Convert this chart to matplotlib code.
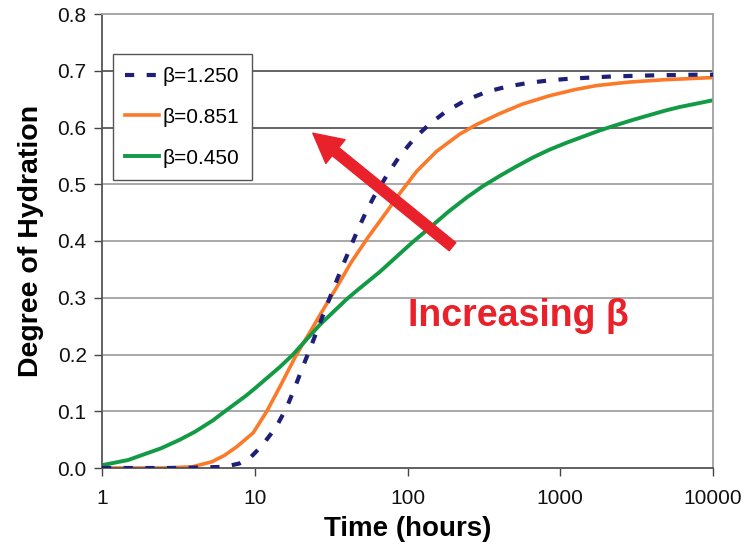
import matplotlib
matplotlib.use("Agg")
import matplotlib.pyplot as plt
from matplotlib.ticker import FixedLocator, FixedFormatter

plt.rcParams['font.family'] = ['Liberation Sans', 'DejaVu Sans']

# ---- data ----
t_b125 = [1, 3.16, 6.31, 7.94, 9.33, 11.2, 13.8, 16.2, 18.2, 20.4, 23.4, 28.8, 32.4,
          37.2, 41.7, 46.8, 53.7, 60.3, 74.1, 89.1, 112, 138, 178, 240, 331, 447, 631,
          851, 1148, 2188, 4266, 7762, 10000]
a_b125 = [0.0, 0.0, 0.002, 0.008, 0.018, 0.040, 0.072, 0.107, 0.140, 0.175, 0.215,
          0.278, 0.313, 0.353, 0.385, 0.417, 0.452, 0.478, 0.518, 0.550, 0.582, 0.605,
          0.628, 0.648, 0.663, 0.672, 0.679, 0.683, 0.686, 0.690, 0.692, 0.693, 0.693]

t_b085 = [1, 2.51, 3.89, 5.25, 6.31, 7.59, 9.77, 12.0, 14.6, 18.6, 24.5, 27.9, 34.3,
          42.7, 55.0, 72.4, 89.1, 115, 155, 219, 282, 398, 562, 851, 1259, 1738, 2818,
          4677, 10000]
a_b085 = [0.0, 0.0, 0.002, 0.011, 0.022, 0.037, 0.062, 0.100, 0.143, 0.198, 0.252,
          0.278, 0.318, 0.362, 0.406, 0.450, 0.484, 0.523, 0.558, 0.588, 0.605, 0.624,
          0.641, 0.656, 0.667, 0.674, 0.680, 0.684, 0.688]

t_b045 = [1, 1.48, 2.45, 3.24, 4.07, 5.33, 6.17, 8.83, 10.2, 14.6, 17.8, 26.6, 39.8,
          46.8, 66.1, 107, 145, 186, 245, 309, 398, 513, 661, 851, 1096, 1778, 2188,
          2951, 3631, 4898, 6026, 10000]
a_b045 = [0.005, 0.014, 0.035, 0.050, 0.064, 0.084, 0.097, 0.128, 0.142, 0.178, 0.200,
          0.252, 0.297, 0.313, 0.346, 0.397, 0.427, 0.452, 0.477, 0.496, 0.514, 0.531,
          0.547, 0.561, 0.573, 0.594, 0.602, 0.613, 0.620, 0.630, 0.636, 0.648]

labels = ['\u03b2=1.250', '\u03b2=0.851', '\u03b2=0.450']
x_ticks = [1, 10, 100, 1000, 10000]
x_tick_labels = ['1', '10', '100', '1000', '10000']
y_ticks = [0.0, 0.1, 0.2, 0.3, 0.4, 0.5, 0.6, 0.7, 0.8]

navy = '#1f1f78'
orange = '#fb7a2a'
green = '#139a45'
red = '#e8212b'

fig = plt.figure(figsize=(7.44, 5.52), dpi=100)
ax = fig.add_axes([102 / 744, 1 - 468 / 552, 611 / 744, 454 / 552])

ax.set_xscale('log')
ax.set_xlim(1, 10000)
ax.set_ylim(0, 0.8)

# gridlines
for yv in y_ticks[1:-1]:
    c = '#4a4a4a' if yv in (0.6, 0.7) else '#9a9a9a'
    ax.axhline(yv, color=c, lw=1.2, zorder=0)

ax.plot(t_b125, a_b125, color=navy, lw=3.0, dashes=(2.2, 3.0), label=labels[0],
        zorder=3, solid_joinstyle='round')
ax.plot(t_b085, a_b085, color=orange, lw=2.6, label=labels[1], zorder=2,
        solid_joinstyle='round')
ax.plot(t_b045, a_b045, color=green, lw=2.8, label=labels[2], zorder=2,
        solid_joinstyle='round')

ax.xaxis.set_major_locator(FixedLocator(x_ticks))
ax.xaxis.set_major_formatter(FixedFormatter(x_tick_labels))
ax.xaxis.set_minor_locator(FixedLocator([]))
ax.set_yticks(y_ticks)
ax.set_yticklabels([f'{v:.1f}' for v in y_ticks])
ax.tick_params(axis='both', direction='out', length=6, width=1.0, color='#444444',
               labelsize=15, labelcolor='#111111')
ax.tick_params(axis='x', pad=9)
ax.tick_params(axis='y', pad=5)

for s in ['left', 'bottom']:
    ax.spines[s].set_color('#555555')
    ax.spines[s].set_linewidth(1.3)
for s in ['top', 'right']:
    ax.spines[s].set_color('#a0a0a0')
    ax.spines[s].set_linewidth(1.3)

ax.set_xlabel('Time (hours)', fontsize=20, fontweight='bold', labelpad=6)
ax.set_ylabel('Degree of Hydration', fontsize=20.5, fontweight='bold', labelpad=10)

leg = ax.legend(loc='upper left', bbox_to_anchor=(0.018, 0.911), borderaxespad=0,
                fontsize=15, handlelength=1.6, handletextpad=0.2, labelspacing=1.05,
                borderpad=0.6, fancybox=False, framealpha=1, edgecolor='#555555')
leg.get_frame().set_linewidth(1.0)

# red arrow
ax.annotate('', xy=(24, 0.59), xytext=(197, 0.39),
            arrowprops=dict(color=red, width=7.5, headwidth=22, headlength=21, shrink=0),
            zorder=4)
ax.text(100, 0.25, 'Increasing \u03b2', color=red, fontsize=27, fontweight='bold',
        ha='left', va='baseline', zorder=5)

fig.savefig('out.png', dpi=100)
